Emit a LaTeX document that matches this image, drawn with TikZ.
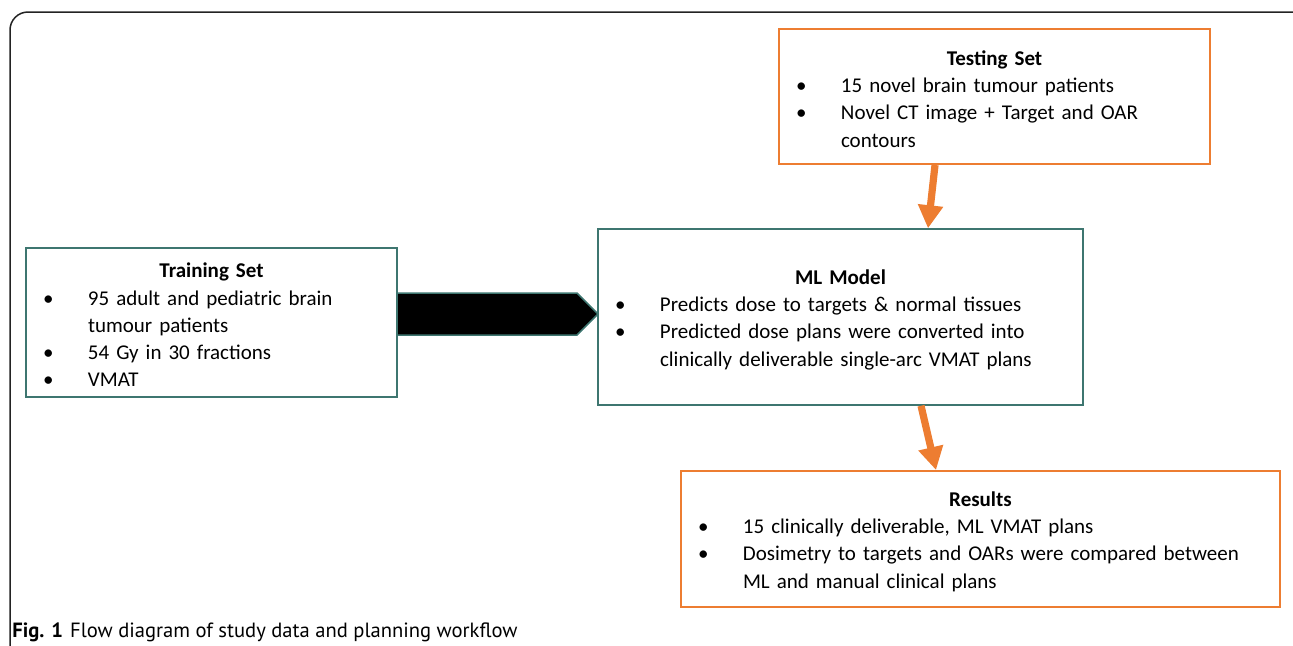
\documentclass[tikz,border=0pt]{standalone}
\usepackage{fontspec}
\setmainfont{Carlito}
\newfontfamily\capfont{PT Sans}
\usetikzlibrary{arrows.meta,shapes.arrows}

\definecolor{naranja}{RGB}{237,125,49}
\definecolor{verdeazul}{RGB}{62,118,112}
\definecolor{marco}{RGB}{35,35,35}

%%%% item con sangria colgante: vineta a 9pt, texto a 31pt
\newcommand{\itm}[1]{\par\noindent\hangindent=31pt\hangafter=1%
\hbox to 31pt{\hskip 8.5pt\textbullet\hfil}#1\par}
\newcommand{\titulo}[1]{\hbox to\hsize{\hss\bfseries
\raisebox{0pt}[\dimexpr\height+2.5pt\relax][\depth]{#1}\hss}}

\tikzset{
 caja/.style={draw, rectangle, inner xsep=0pt, inner ysep=0pt, align=left,
   font=\fontsize{10.5}{13.65}\selectfont},
 cajanar/.style={caja, draw=naranja, line width=1pt},
 cajaver/.style={caja, draw=verdeazul, line width=.75pt},
 flechanar/.style={naranja, line width=3.6pt,
   -{Triangle[length=11.5pt,width=12pt]}}
}

\begin{document}
\begin{tikzpicture}[x=0.5pt,y=-0.5pt]
\useasboundingbox (0,0) rectangle (1293,645);
\clip (0,0) rectangle (1293,645);

%%%%%%%%%%%%%%%%%%%%%%%%%%%%%%%%%%%%%%%%%%%%%%%% 	MARCO
\draw[marco, line width=.75pt, rounded corners=9pt]
(10,660) -- (10,12) -- (1310,12) -- (1310,660);	%%%%	se sale de la hoja a la derecha y abajo

%%%%%%%%%%%%%%%%%%%%%%%%%%%%%%%%%%%%%%%%%%%%%%%% 	CAJAS
\node[cajanar, text width=215.5pt, minimum height=67.5pt] (test) at (994.5,96.5)
{\titulo{Testing Set}
\itm{15 novel brain tumour patients}
\itm{Novel CT image + Target and OAR\newline contours}};

\node[cajaver, text width=185.5pt, minimum height=74.5pt] (train) at (211.5,322.5)
{\titulo{Training Set}
\itm{95 adult and pediatric brain\newline tumour patients}
\itm{54 Gy in 30 fractions}
\itm{VMAT}};

\node[cajaver, text width=242.5pt, minimum height=88pt] (ml) at (840.5,317)
{\titulo{ML Model}
\itm{Predicts dose to targets \& normal tissues}
\itm{Predicted dose plans were converted into\newline clinically deliverable single-arc VMAT plans}};

\node[cajanar, text width=299.5pt, minimum height=68pt] (res) at (980.5,539)
{\titulo{Results}
\itm{15 clinically deliverable, ML VMAT plans}
\itm{Dosimetry to targets and OARs were compared between\newline ML and manual clinical plans}};

%%%%%%%%%%%%%%%%%%%%%%%%%%%%%%%%%%%%%%%%%%%%%%%% 	FLECHAS
\node[single arrow, fill=black, draw=verdeazul, line width=.75pt,
      single arrow head extend=0pt, single arrow tip angle=90,
      minimum height=100.5pt, minimum width=21pt, inner sep=0pt, outer sep=0pt,
      anchor=tip]
  (paso) at (598,314) {};			%%%%	la punta toca la caja del modelo

\draw[flechanar] ([xshift=-29.75pt]test.south) -- ([xshift=43.75pt]ml.north);
\draw[flechanar] ([xshift=40.25pt]ml.south) -- ([xshift=-22.25pt]res.north);

%%%%%%%%%%%%%%%%%%%%%%%%%%%%%%%%%%%%%%%%%%%%%%%% 	PIE DE FIGURA
\node[anchor=base west, inner sep=0pt, font=\capfont\fontsize{10.3}{12}\selectfont]
  (pie) at (12,637) {\textbf{Fig. 1}\hspace{3.5pt}Flow diagram of study data and planning workflow};

\end{tikzpicture}
\end{document}
